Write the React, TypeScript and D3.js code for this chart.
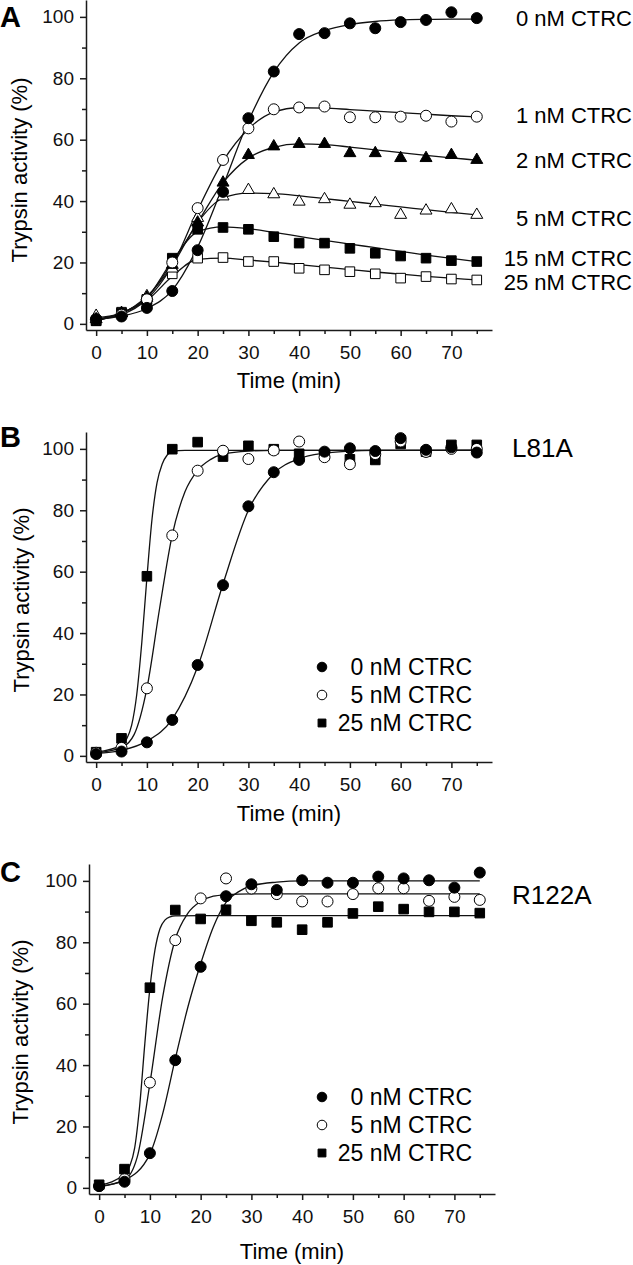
import React, { useEffect, useRef } from 'react';
import * as d3 from 'd3';

// sampling times (min)
const times = [0, 5, 10, 15, 20, 25, 30, 35, 40, 45, 50, 55, 60, 65, 70, 75];
const xMajorTicks = [0, 10, 20, 30, 40, 50, 60, 70];
const xMinorTicks = [5, 15, 25, 35, 45, 55, 65, 75];
const yMajorTicks = [0, 20, 40, 60, 80, 100];
const yMinorTicks = [10, 30, 50, 70, 90];

// Panel A - measured trypsin activity (%)
const a0nM = [1.5, 2.4, 5.2, 10.7, 24, 43, 67, 82.2, 94.4, 94.7, 97.9, 96.3, 98.3, 99, 101.5, 99.6];
const a1nM = [1.5, 3, 8, 20, 37.7, 53.4, 63.7, 69.9, 70.5, 70.8, 67.3, 67.3, 67.5, 67.8, 65.9, 67.5];
const a2nM = [1.5, 3.5, 8.5, 19.2, 33, 46, 55, 57.8, 58.6, 58.6, 55.6, 55.6, 54, 54, 55, 53.4];
const a5nM = [2.6, 3.5, 9, 18, 34.5, 41.5, 43.6, 42.2, 39.8, 40.6, 38.8, 39.3, 35.5, 36.9, 37.3, 35.5];
const a15nM = [1, 3.5, 8, 21.4, 30.8, 31.4, 30.8, 28.4, 26.3, 26.3, 24.6, 23, 22.1, 21.4, 20.6, 20.3];
const a25nM = [1, 3.8, 7.8, 16.3, 21.4, 21.6, 20.3, 20.3, 18.1, 17.6, 17, 16.3, 14.9, 15.4, 14.6, 14.3];

// Panel A - fitted curves read at the sampling times
const fitA0 = [1.5, 2.5, 5, 11, 25, 45, 66, 82, 91.5, 95.5, 97.5, 98.5, 99, 99.2, 99.3, 99.3];
const fitA1 = [1.5, 3, 8, 19, 37, 53, 63.5, 69, 70.4, 70.3, 69.8, 69.3, 68.8, 68.3, 67.8, 67.4];
const fitA2 = [1.5, 3.5, 8.5, 20, 33, 46, 54, 57.5, 58.6, 58.4, 57.6, 56.7, 55.8, 54.9, 54.1, 53.3];
const fitA5 = [2, 3.5, 9, 19, 33, 41, 42.6, 42.4, 41.7, 40.8, 39.9, 39, 38.1, 37.2, 36.3, 35.5];
const fitA15 = [1, 3.5, 8.5, 20.5, 30, 31.6, 31, 29.8, 28.5, 27.2, 26, 24.8, 23.6, 22.4, 21.3, 20.3];
const fitA25 = [1, 3.6, 7.6, 15.5, 21, 21.4, 20.8, 20.1, 19.3, 18.5, 17.7, 16.9, 16.2, 15.5, 14.9, 14.3];

// Panel B (L81A)
const b0nM = [0.6, 1.4, 4.4, 11.7, 29.6, 55.6, 81.3, 92.4, 96.4, 99.1, 100.2, 99.3, 103.5, 99.7, 100.5, 98.8];
const b5nM = [1, 2.6, 22, 71.8, 92.9, 99.4, 96.7, 99.5, 102.4, 97.3, 95, 98.3, 102.4, 99, 100, 100];
const b25nM = [1.2, 5.7, 58.5, 99.9, 102.2, 97.5, 101, 99.9, 98.4, 98, 96.6, 96.4, 101.6, 99.1, 101.3, 101.3];
const fitB0: [number, number][] = [[0, 0.8], [5, 1.8], [10, 4.8], [15, 12], [20, 29], [25, 56], [30, 80], [35, 92], [40, 96.8], [45, 98.6], [50, 99.3], [55, 99.5], [75, 99.6]];
const fitB5: [number, number][] = [[0, 1], [5, 2.7], [7.5, 7], [10, 22], [12.5, 48], [15, 72], [17.5, 86], [20, 93], [22.5, 96.5], [25, 98.3], [30, 99.3], [35, 99.5], [75, 99.5]];
const fitB25: [number, number][] = [[0, 1.2], [5, 3.5], [6, 5.5], [7, 10], [8, 20], [9, 37], [10, 58], [11, 77], [12, 89], [13, 95], [14, 98], [15, 99.2], [17.5, 99.5], [75, 99.5]];

// Panel C (R122A)
const c0nM = [0.6, 2, 11.3, 41.6, 72, 95, 98.9, 97, 100.2, 99.4, 99.4, 101.4, 100.8, 100.2, 97.8, 102.7];
const c5nM = [0.6, 2.8, 34.3, 80.7, 94.3, 100.8, 97.5, 95.7, 93.3, 93.3, 95.7, 97.6, 97.6, 93.5, 94.8, 93.8];
const c25nM = [1, 6.1, 65.2, 90.5, 87.6, 90.6, 87, 86.5, 84.1, 86.5, 89.4, 91.6, 90.8, 89.9, 89.9, 89.5];
const fitC0: [number, number][] = [[0, 0.4], [5, 2.5], [10, 11], [12.5, 24], [15, 42], [17.5, 59], [20, 73], [22.5, 85], [25, 93], [27.5, 96.5], [30, 98.4], [35, 99.6], [40, 100], [75, 100]];
const fitC5: [number, number][] = [[0, 0.5], [5, 2.6], [7.5, 10], [10, 34], [12.5, 62], [15, 81], [17.5, 89.5], [20, 93.3], [22.5, 95], [25, 95.5], [30, 95.8], [75, 95.8]];
const fitC25: [number, number][] = [[0, 0.8], [5, 4.5], [6, 7], [7, 13], [8, 27], [9, 47], [10, 65], [11, 77.5], [12, 84.5], [13, 87.3], [14, 88.3], [15, 88.6], [20, 88.7], [75, 88.7]];

const labelsA = ['0 nM CTRC', '1 nM CTRC', '2 nM CTRC', '5 nM CTRC', '15 nM CTRC', '25 nM CTRC'];
const labelsBC = ['0 nM CTRC', '5 nM CTRC', '25 nM CTRC'];

type MarkerType = 'circle' | 'square' | 'triangle';
interface Series {
  label: string;
  values: number[];
  fit: [number, number][];
  marker: MarkerType;
  filled: boolean;
}

const pairs = (vals: number[]): [number, number][] => times.map((t, i) => [t, vals[i]]);

const seriesA: Series[] = [
  { label: labelsA[5], values: a25nM, fit: pairs(fitA25), marker: 'square', filled: false },
  { label: labelsA[4], values: a15nM, fit: pairs(fitA15), marker: 'square', filled: true },
  { label: labelsA[3], values: a5nM, fit: pairs(fitA5), marker: 'triangle', filled: false },
  { label: labelsA[2], values: a2nM, fit: pairs(fitA2), marker: 'triangle', filled: true },
  { label: labelsA[1], values: a1nM, fit: pairs(fitA1), marker: 'circle', filled: false },
  { label: labelsA[0], values: a0nM, fit: pairs(fitA0), marker: 'circle', filled: true },
];

const seriesB: Series[] = [
  { label: labelsBC[2], values: b25nM, fit: fitB25, marker: 'square', filled: true },
  { label: labelsBC[1], values: b5nM, fit: fitB5, marker: 'circle', filled: false },
  { label: labelsBC[0], values: b0nM, fit: fitB0, marker: 'circle', filled: true },
];

const seriesC: Series[] = [
  { label: labelsBC[2], values: c25nM, fit: fitC25, marker: 'square', filled: true },
  { label: labelsBC[1], values: c5nM, fit: fitC5, marker: 'circle', filled: false },
  { label: labelsBC[0], values: c0nM, fit: fitC0, marker: 'circle', filled: true },
];

const FONT = '"Liberation Sans", Arial, Helvetica, sans-serif';
const WIDTH = 633;
const HEIGHT = 1265;

const symbolType = { circle: d3.symbolCircle, square: d3.symbolSquare, triangle: d3.symbolTriangle };
const symbolSize = { circle: 95, square: 92, triangle: 62 };
const legendSize = { circle: 72, square: 62, triangle: 50 };

interface PanelConfig {
  letter: string;
  letterY: number;
  top: number;
  left: number;
  series: Series[];
  titleY: number;
  yTitle: [number, number];
  // end labels (panel A) or legend (B, C)
  endLabels?: { y: number[] };
  legend?: { x: number; textX: number; y: number[] };
  mutant?: { text: string; y: number };
}

const panels: PanelConfig[] = [
  {
    letter: 'A', letterY: 27, top: 0, left: 86, series: seriesA, titleY: 388, yTitle: [19, 170],
    endLabels: { y: [282, 258, 218, 160, 115, 18] },
  },
  {
    letter: 'B', letterY: 447, top: 432, left: 86, series: seriesB, titleY: 821, yTitle: [21, 600],
    legend: { x: 322, textX: 472, y: [723, 695, 667] },
    mutant: { text: 'L81A', y: 448 },
  },
  {
    letter: 'C', letterY: 882, top: 864, left: 89, series: seriesC, titleY: 1259, yTitle: [20, 1032],
    legend: { x: 322, textX: 472, y: [1153, 1125, 1097] },
    mutant: { text: 'R122A', y: 895 },
  },
];

function drawPanel(svg: d3.Selection<SVGSVGElement, unknown, null, undefined>, cfg: PanelConfig) {
  const x = d3.scaleLinear().domain([-2, 78]).range([cfg.left, cfg.left + 406]);
  const y = d3.scaleLinear().domain([-2, 105.5]).range([cfg.top + 330, cfg.top]);

  const styleAxis = (g: d3.Selection<SVGGElement, unknown, null, undefined>) => {
    g.attr('color', '#1a1a1a');
    g.selectAll('path, line').attr('stroke-width', 1.5);
    g.selectAll('text').attr('font-family', FONT).attr('font-size', 19).attr('fill', '#111');
  };

  // y axis
  const yAxis = svg.append('g').attr('transform', `translate(${cfg.left},0)`)
    .call(d3.axisLeft(y).tickValues(yMajorTicks).tickSize(6).tickSizeOuter(0).tickPadding(6));
  styleAxis(yAxis);
  const yMinor = svg.append('g').attr('transform', `translate(${cfg.left},0)`)
    .call(d3.axisLeft(y).tickValues(yMinorTicks).tickSize(4).tickSizeOuter(0).tickFormat(() => ''));
  yMinor.select('.domain').remove();
  styleAxis(yMinor);

  // x axis
  const xAxis = svg.append('g').attr('transform', `translate(0,${cfg.top + 330})`)
    .call(d3.axisBottom(x).tickValues(xMajorTicks).tickSize(6).tickSizeOuter(0).tickPadding(10));
  styleAxis(xAxis);
  const xMinor = svg.append('g').attr('transform', `translate(0,${cfg.top + 330})`)
    .call(d3.axisBottom(x).tickValues(xMinorTicks).tickSize(4).tickSizeOuter(0).tickFormat(() => ''));
  xMinor.select('.domain').remove();
  styleAxis(xMinor);

  // titles
  svg.append('text')
    .attr('x', (cfg.left + cfg.left + 406) / 2)
    .attr('y', cfg.titleY)
    .attr('text-anchor', 'middle')
    .attr('font-family', FONT)
    .attr('font-size', 22)
    .text('Time (min)');

  svg.append('text')
    .attr('transform', `translate(${cfg.yTitle[0]},${cfg.yTitle[1]}) rotate(-90)`)
    .attr('text-anchor', 'middle')
    .attr('dy', '0.35em')
    .attr('font-family', FONT)
    .attr('font-size', 22)
    .text('Trypsin activity (%)');

  svg.append('text')
    .attr('x', 0)
    .attr('y', cfg.letterY)
    .attr('font-family', FONT)
    .attr('font-weight', 'bold')
    .attr('font-size', 29)
    .text(cfg.letter);

  // fitted curves
  const line = d3.line<[number, number]>()
    .x((d) => x(d[0]))
    .y((d) => y(d[1]))
    .curve(d3.curveMonotoneX);

  cfg.series.forEach((s) => {
    svg.append('path')
      .attr('d', line(s.fit))
      .attr('fill', 'none')
      .attr('stroke', '#111')
      .attr('stroke-width', 1.3);
  });

  // data points
  cfg.series.forEach((s) => {
    const sym = d3.symbol().type(symbolType[s.marker]).size(symbolSize[s.marker]);
    svg.append('g')
      .selectAll('path')
      .data(s.values)
      .enter()
      .append('path')
      .attr('transform', (d, i) => `translate(${x(times[i])},${y(d)})`)
      .attr('d', sym() as string)
      .attr('fill', s.filled ? '#000' : '#fff')
      .attr('stroke', '#000')
      .attr('stroke-width', 1);
  });

  if (cfg.endLabels) {
    cfg.series.forEach((s, i) => {
      svg.append('text')
        .attr('x', 632)
        .attr('y', cfg.endLabels!.y[i])
        .attr('dy', '0.35em')
        .attr('text-anchor', 'end')
        .attr('font-family', FONT)
        .attr('font-size', 22)
        .text(s.label);
    });
  }

  if (cfg.legend) {
    const lg = cfg.legend;
    cfg.series.forEach((s, i) => {
      const sym = d3.symbol().type(symbolType[s.marker]).size(legendSize[s.marker]);
      svg.append('path')
        .attr('transform', `translate(${lg.x},${lg.y[i]})`)
        .attr('d', sym() as string)
        .attr('fill', s.filled ? '#000' : '#fff')
        .attr('stroke', '#000')
        .attr('stroke-width', 1);
      svg.append('text')
        .attr('x', lg.textX)
        .attr('y', lg.y[i])
        .attr('dy', '0.35em')
        .attr('text-anchor', 'end')
        .attr('font-family', FONT)
        .attr('font-size', 23)
        .text(s.label);
    });
  }

  if (cfg.mutant) {
    svg.append('text')
      .attr('x', 512)
      .attr('y', cfg.mutant.y)
      .attr('dy', '0.35em')
      .attr('font-family', FONT)
      .attr('font-size', 26)
      .text(cfg.mutant.text);
  }
}

export default function App() {
  const svgRef = useRef<SVGSVGElement>(null);

  useEffect(() => {
    if (!svgRef.current) return;
    const svg = d3.select(svgRef.current);
    svg.selectAll('*').remove();
    svg.append('rect').attr('width', WIDTH).attr('height', HEIGHT).attr('fill', '#fff');
    panels.forEach((p) => drawPanel(svg, p));
  }, []);

  return (
    <svg
      ref={svgRef}
      width={WIDTH}
      height={HEIGHT}
      style={{ position: 'absolute', left: 0, top: 0, display: 'block' }}
      role="img"
      aria-label="Trypsin activity time courses"
    />
  );
}
